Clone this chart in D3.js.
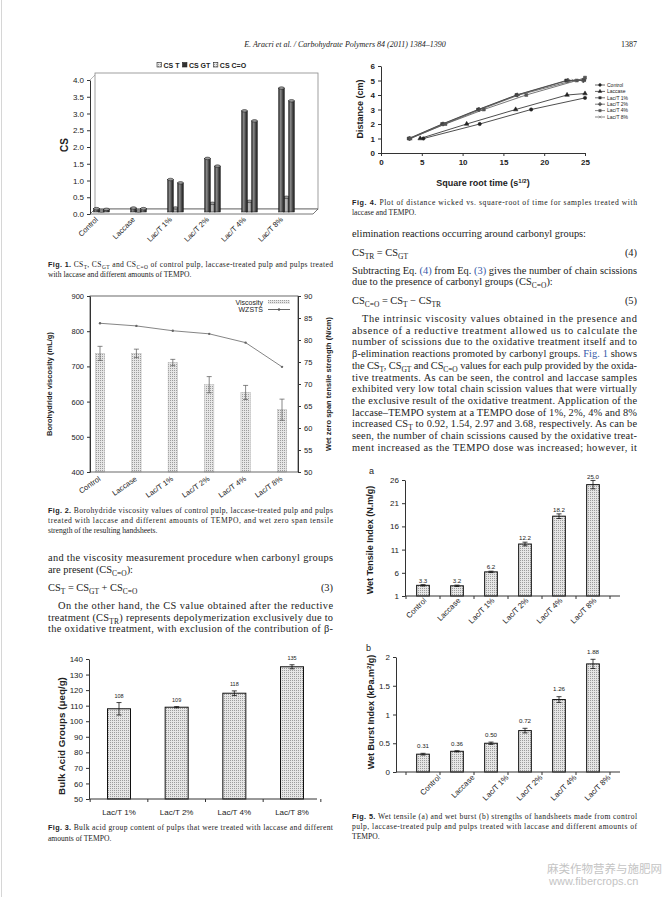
<!DOCTYPE html>
<html>
<head>
<meta charset="utf-8">
<script src="https://cdn.jsdelivr.net/npm/d3@7/dist/d3.min.js"></script>
<style>
body { margin: 0; background: #fff; }
svg { display: block; }
</style>
</head>
<body>
<div id="page"></div>
<script>
// ---- data ----
const groups = ["Control", "Laccase", "Lac/T 1%", "Lac/T 2%", "Lac/T 4%", "Lac/T 8%"]

// fig 1: chain scissions
const csT  = [0.10, 0.12, 0.97, 1.60, 3.02, 3.70]
const csGT = [0.08, 0.10, 0.87, 1.37, 2.72, 3.32]
const csCO = [0.03, 0.03, 0.12, 0.26, 0.32, 0.44]
const f1Legend = ["CS T", "CS GT", "CS C=O"]
const f1Ticks = [0, 0.5, 1, 1.5, 2, 2.5, 3, 3.5, 4]

// fig 2: viscosity + WZSTS
const viscosity = [737, 737, 711, 648, 626, 577]
const viscosityErr = [20, 12, 9, 23, 20, 30]
const wzsts = [83.8, 83.2, 82.1, 81.4, 79.4, 73.9]
const f2LeftTicks = [400, 500, 600, 700, 800, 900]
const f2RightTicks = [50, 55, 60, 65, 70, 75, 80, 85, 90]

// fig 3: bulk acid groups
const acidGroups = ["Lac/T 1%", "Lac/T 2%", "Lac/T 4%", "Lac/T 8%"]
const acidValues = [108, 109, 118, 135]
const acidErr = [4, 0.4, 1.5, 1.3]
const f3Ticks = [50, 60, 70, 80, 90, 100, 110, 120, 130, 140]

// fig 4: distance wicked vs sqrt time
const wickTime = [
    [5.2, 12.1, 18.4, 25.0],
    [4.8, 10.5, 16.5, 22.8, 25.0],
    [3.4, 7.5, 11.9, 16.6, 22.7, 24.9],
    [3.5, 7.6, 12.0, 16.7, 22.9, 24.8],
    [3.6, 7.9, 12.6, 17.8, 24.0, 25.0],
    [3.6, 7.8, 12.2, 16.9, 23.6, 24.9]
]
const wickDist = [
    [1, 2, 3, 3.8],
    [1, 2, 3, 4, 4.1],
    [1, 2, 3, 4, 5, 5.05],
    [1, 2, 3, 4, 5, 5.0],
    [1, 2, 3, 4, 5, 5.2],
    [1, 2, 3, 4, 5, 5.0]
]
const f4XTicks = [0, 5, 10, 15, 20, 25]
const f4YTicks = [0, 1, 2, 3, 4, 5, 6]

// fig 5: wet tensile / wet burst
const tensile = [3.3, 3.2, 6.2, 12.2, 18.2, 25.0]
const tensileErr = [0.15, 0.15, 0.15, 0.4, 0.5, 0.9]
const tensileLabels = ["3.3", "3.2", "6.2", "12.2", "18.2", "25.0"]
const burst = [0.31, 0.36, 0.50, 0.72, 1.26, 1.88]
const burstErr = [0.015, 0.01, 0.02, 0.04, 0.05, 0.08]
const burstLabels = ["0.31", "0.36", "0.50", "0.72", "1.26", "1.88"]
const f5aTicks = [1, 6, 11, 16, 21, 26]
const f5bTicks = [0, 0.5, 1, 1.5, 2]

// ---- page text ----
const header = "E. Aracri et al. / Carbohydrate Polymers 84 (2011) 1384–1390"
const cap1 = ["*Fig. 1.* CS_{T}, CS_{GT} and CS_{C=O} of control pulp, laccase-treated pulp and pulps treated",
    "with laccase and different amounts of TEMPO."]
const cap2 = ["*Fig. 2.* Borohydride viscosity values of control pulp, laccase-treated pulp and pulps",
    "treated with laccase and different amounts of TEMPO, and wet zero span tensile",
    "strength of the resulting handsheets."]
const cap3 = ["*Fig. 3.* Bulk acid group content of pulps that were treated with laccase and different",
    "amounts of TEMPO."]
const cap4 = ["*Fig. 4.* Plot of distance wicked vs. square-root of time for samples treated with",
    "laccase and TEMPO."]
const cap5 = ["*Fig. 5.* Wet tensile (a) and wet burst (b) strengths of handsheets made from control",
    "pulp, laccase-treated pulp and pulps treated with laccase and different amounts of",
    "TEMPO."]
const leftText1 = ["and the viscosity measurement procedure when carbonyl groups",
    "are present (CS_{C=O}):"]
const leftText2 = ["On the other hand, the CS value obtained after the reductive",
    "treatment (CS_{TR}) represents depolymerization exclusively due to",
    "the oxidative treatment, with exclusion of the contribution of β-"]
const rightText1 = ["elimination reactions occurring around carbonyl groups:"]
const rightText2 = ["Subtracting Eq. [(4)] from Eq. [(3)] gives the number of chain scissions",
    "due to the presence of carbonyl groups (CS_{C=O}):"]
const rightText3 = ["The intrinsic viscosity values obtained in the presence and",
    "absence of a reductive treatment allowed us to calculate the",
    "number of scissions due to the oxidative treatment itself and to",
    "β-elimination reactions promoted by carbonyl groups. [Fig. 1] shows",
    "the CS_{T}, CS_{GT} and CS_{C=O} values for each pulp provided by the oxida-",
    "tive treatments. As can be seen, the control and laccase samples",
    "exhibited very low total chain scission values that were virtually",
    "the exclusive result of the oxidative treatment. Application of the",
    "laccase–TEMPO system at a TEMPO dose of 1%, 2%, 4% and 8%",
    "increased CS_{T} to 0.92, 1.54, 2.97 and 3.68, respectively. As can be",
    "seen, the number of chain scissions caused by the oxidative treat-",
    "ment increased as the TEMPO dose was increased; however, it"]

const W = 672, H = 897
const SANS = "Liberation Sans, Arial, sans-serif"
const SERIF = "Liberation Serif, serif"
const INK = "#222"
const colL = 48, colR = 352, colW = 285

const svg = d3.select("#page").append("svg").attr("width", W).attr("height", H)
svg.append("rect").attr("width", W).attr("height", H).attr("fill", "#fff")
svg.append("line").attr("x1", 1.5).attr("x2", 1.5).attr("y1", 0).attr("y2", H).attr("stroke", "#d6d6d6")

const defs = svg.append("defs")
const dots = defs.append("pattern").attr("id", "dots").attr("width", 2).attr("height", 2).attr("patternUnits", "userSpaceOnUse")
dots.append("rect").attr("width", 2).attr("height", 2).attr("fill", "#e6e6e6")
dots.append("rect").attr("width", 1).attr("height", 1).attr("fill", "#9c9c9c")
const cyl = defs.append("linearGradient").attr("id", "cyl")
cyl.append("stop").attr("offset", "0%").attr("stop-color", "#2a2a2a")
cyl.append("stop").attr("offset", "35%").attr("stop-color", "#8c8c8c")
cyl.append("stop").attr("offset", "65%").attr("stop-color", "#505050")
cyl.append("stop").attr("offset", "100%").attr("stop-color", "#1c1c1c")
const cylLight = defs.append("linearGradient").attr("id", "cylLight")
cylLight.append("stop").attr("offset", "0%").attr("stop-color", "#666")
cylLight.append("stop").attr("offset", "40%").attr("stop-color", "#c8c8c8")
cylLight.append("stop").attr("offset", "100%").attr("stop-color", "#555")

// --- text helpers: _{sub}, [blue link], *bold sans* ---
function rich(sel, str, fs) {
    const parts = str.split(/(_\{[^}]*\}|\[[^\]]*\]|\*[^*]*\*)/).filter(s => s.length)
    let off = 0
    parts.forEach(p => {
        let t = p, target = 0, size = null, fill = null, bold = false
        if (p.startsWith("_{")) { t = p.slice(2, -1); target = fs * 0.28; size = fs * 0.72 }
        else if (p.startsWith("[")) { t = p.slice(1, -1); fill = "#3558a8" }
        else if (p.startsWith("*")) { t = p.slice(1, -1); bold = true }
        const ts = sel.append("tspan").text(t)
        if (target !== off) ts.attr("dy", target - off)
        off = target
        if (size) ts.attr("font-size", size)
        if (fill) ts.attr("fill", fill)
        if (bold) ts.attr("font-weight", "bold").attr("font-family", SANS).attr("font-size", fs * 0.95)
    })
}

function textLine(x, y, str, o) {
    const t = svg.append("text").attr("x", x).attr("y", y)
        .attr("font-family", o.family || SERIF).attr("font-size", o.size).attr("fill", INK)
    if (o.anchor) t.attr("text-anchor", o.anchor)
    if (o.italic) t.attr("font-style", "italic")
    rich(t, str, o.size)
    if (o.width) t.attr("textLength", o.width).attr("lengthAdjust", "spacing")
    return t
}

function para(x, y0, lines, o) {
    lines.forEach((s, i) => {
        const ind = (i === 0 && o.indent) ? o.indent : 0
        const last = i === lines.length - 1
        textLine(x + ind, y0 + i * o.lh, s, { size: o.size, width: (last && !o.justifyLast) ? null : o.width - ind })
    })
}

function styleAxis(g, fs, bold) {
    g.attr("font-family", SANS).attr("font-size", fs)
    g.selectAll("text").attr("fill", INK).attr("font-weight", bold ? "bold" : null)
    g.selectAll("path, line").attr("stroke", "#333")
}

// ---- header ----
textLine(345, 47, header, { size: 8, anchor: "middle", italic: true })
textLine(637, 47, "1387", { size: 8, anchor: "end" })

// ---- Fig. 1 : 3D cylinders ----
const f1x = d3.scalePoint().domain(groups).range([101.5, 286.5])
const f1y = d3.scaleLinear().domain([0, 4]).range([214, 80])
const g1 = svg.append("g")
g1.append("rect").attr("x", 95).attr("y", 73).attr("width", 223).attr("height", 136)
    .attr("fill", "none").attr("stroke", "#888").attr("stroke-width", 0.8)
g1.append("path").attr("d", "M90,214L95,209L318,209L313,214Z").attr("fill", "#fff").attr("stroke", "#555").attr("stroke-width", 0.8)
g1.append("path").attr("d", "M90,80L95,75").attr("stroke", "#888").attr("stroke-width", 0.6)
const ax1 = g1.append("g").attr("transform", "translate(90,0)")
    .call(d3.axisLeft(f1y).tickValues(f1Ticks).tickFormat(d3.format(".1f")).tickSize(3).tickSizeOuter(0))
styleAxis(ax1, 8)

const f1Bars = [
    { vals: csCO, off: 0, fill: "url(#cylLight)" },
    { vals: csT, off: -5, fill: "url(#cyl)" },
    { vals: csGT, off: 5, fill: "url(#cyl)" }
]
const bw1 = 5.6
f1Bars.forEach(s => {
    const bars = g1.append("g").selectAll("g").data(groups).join("g")
    bars.append("rect")
        .attr("x", (d, i) => f1x(d) + s.off - bw1 / 2)
        .attr("y", (d, i) => f1y(s.vals[i]) - 2)
        .attr("width", bw1)
        .attr("height", (d, i) => f1y(0) - f1y(s.vals[i]))
        .attr("fill", s.fill).attr("stroke", "#111").attr("stroke-width", 0.5)
    bars.append("ellipse")
        .attr("cx", d => f1x(d) + s.off)
        .attr("cy", (d, i) => f1y(s.vals[i]) - 2)
        .attr("rx", bw1 / 2).attr("ry", 1.3)
        .attr("fill", "#9a9a9a").attr("stroke", "#111").attr("stroke-width", 0.5)
})
g1.append("g").selectAll("text").data(groups).join("text")
    .attr("transform", d => `translate(${f1x(d) - 3},220) rotate(-45)`)
    .attr("text-anchor", "end").attr("font-family", SANS).attr("font-size", 7.5).attr("fill", INK)
    .text(d => d)
g1.append("text").attr("transform", "translate(68,145) rotate(-90)").attr("text-anchor", "middle")
    .attr("font-family", SANS).attr("font-weight", "bold").attr("font-size", 10).attr("fill", INK).text("CS")
// legend
let lx = 157
const legFills = ["url(#dots)", "#333", "url(#dots)"]
f1Legend.forEach((name, i) => {
    g1.append("rect").attr("x", lx).attr("y", 62.5).attr("width", 4.5).attr("height", 4.5)
        .attr("fill", legFills[i]).attr("stroke", "#222").attr("stroke-width", 0.6)
    const t = g1.append("text").attr("x", lx + 6.5).attr("y", 67.5).attr("font-family", SANS)
        .attr("font-weight", "bold").attr("font-size", 7).attr("fill", INK).text(name)
    lx += 6.5 + t.node().getComputedTextLength() + 3
})
para(colL, 267, cap1, { size: 7.6, lh: 10, width: colW })

// ---- Fig. 2 : viscosity bars + WZSTS line ----
const f2x = d3.scalePoint().domain(groups).range([100, 282])
const f2y = d3.scaleLinear().domain([400, 900]).range([472, 296])
const f2y2 = d3.scaleLinear().domain([50, 90]).range([472, 296])
const g2 = svg.append("g")
const bw2 = 9.4
g2.append("g").selectAll("rect").data(groups).join("rect")
    .attr("x", d => f2x(d) - bw2 / 2).attr("y", (d, i) => f2y(viscosity[i]))
    .attr("width", bw2).attr("height", (d, i) => f2y(400) - f2y(viscosity[i]))
    .attr("fill", "url(#dots)").attr("stroke", "#aaa").attr("stroke-width", 0.4)
const eb2 = g2.append("g").attr("stroke", "#555").attr("stroke-width", 0.7)
groups.forEach((d, i) => {
    const c = f2x(d), lo = f2y(viscosity[i] - viscosityErr[i]), hi = f2y(viscosity[i] + viscosityErr[i])
    eb2.append("line").attr("x1", c).attr("x2", c).attr("y1", lo).attr("y2", hi)
    eb2.append("line").attr("x1", c - 2.5).attr("x2", c + 2.5).attr("y1", lo).attr("y2", lo)
    eb2.append("line").attr("x1", c - 2.5).attr("x2", c + 2.5).attr("y1", hi).attr("y2", hi)
})
g2.append("path").datum(wzsts)
    .attr("d", d3.line().x((d, i) => f2x(groups[i])).y(d => f2y2(d)))
    .attr("fill", "none").attr("stroke", "#777").attr("stroke-width", 0.9)
g2.append("g").selectAll("circle").data(wzsts).join("circle")
    .attr("cx", (d, i) => f2x(groups[i])).attr("cy", d => f2y2(d)).attr("r", 1.2).attr("fill", "#666")
g2.append("rect").attr("x", 90).attr("y", 296).attr("width", 208).attr("height", 176)
    .attr("fill", "none").attr("stroke", "#444").attr("stroke-width", 0.8)
const ax2l = g2.append("g").attr("transform", "translate(90,0)")
    .call(d3.axisLeft(f2y).tickValues(f2LeftTicks).tickSize(3).tickSizeOuter(0))
styleAxis(ax2l, 7.5)
const ax2r = g2.append("g").attr("transform", "translate(298,0)")
    .call(d3.axisRight(f2y2).tickValues(f2RightTicks).tickSize(3).tickSizeOuter(0))
styleAxis(ax2r, 7.5)
g2.append("g").selectAll("text").data(groups).join("text")
    .attr("transform", d => `translate(${f2x(d) + 1},480) rotate(-35)`)
    .attr("text-anchor", "end").attr("font-family", SANS).attr("font-size", 7.5).attr("fill", INK)
    .text(d => d)
g2.append("text").attr("transform", "translate(52,384) rotate(-90)").attr("text-anchor", "middle")
    .attr("font-family", SANS).attr("font-weight", "bold").attr("font-size", 7.5).attr("fill", INK)
    .text("Borohydride viscosity (mL/g)")
g2.append("text").attr("transform", "translate(331,384) rotate(-90)").attr("text-anchor", "middle")
    .attr("font-family", SANS).attr("font-weight", "bold").attr("font-size", 7.5).attr("fill", INK)
    .text("Wet zero span tensile strength (N/cm)")
g2.append("text").attr("x", 263).attr("y", 304.5).attr("text-anchor", "end").attr("font-family", SANS)
    .attr("font-size", 7).attr("fill", INK).text("Viscosity")
g2.append("rect").attr("x", 268).attr("y", 300).attr("width", 22).attr("height", 4).attr("fill", "url(#dots)")
g2.append("text").attr("x", 263).attr("y", 312).attr("text-anchor", "end").attr("font-family", SANS)
    .attr("font-size", 7).attr("fill", INK).text("WZSTS")
g2.append("line").attr("x1", 268).attr("x2", 290).attr("y1", 309.5).attr("y2", 309.5).attr("stroke", "#555").attr("stroke-width", 0.9)
g2.append("circle").attr("cx", 279).attr("cy", 309.5).attr("r", 1.2).attr("fill", "#555")
para(colL, 513, cap2, { size: 7.6, lh: 10, width: colW })

// ---- left column body ----
para(colL, 561, leftText1, { size: 10.4, lh: 11.7, width: colW })
textLine(colL, 591, "CS_{T} = CS_{GT} + CS_{C=O}", { size: 10.4 })
textLine(colL + colW, 591, "(3)", { size: 10.4, anchor: "end" })
para(colL, 609, leftText2, { size: 10.4, lh: 11.7, width: colW, indent: 10, justifyLast: true })

// ---- Fig. 3 : bulk acid groups ----
const f3x = d3.scalePoint().domain(acidGroups).range([119, 292])
const f3y = d3.scaleLinear().domain([50, 140]).range([799, 659])
const g3 = svg.append("g")
const bw3 = 23
g3.append("g").selectAll("rect").data(acidGroups).join("rect")
    .attr("x", d => f3x(d) - bw3 / 2).attr("y", (d, i) => f3y(acidValues[i]))
    .attr("width", bw3).attr("height", (d, i) => f3y(50) - f3y(acidValues[i]))
    .attr("fill", "url(#dots)").attr("stroke", "#111").attr("stroke-width", 1)
const eb3 = g3.append("g").attr("stroke", "#111").attr("stroke-width", 0.8)
acidGroups.forEach((d, i) => {
    const c = f3x(d), lo = f3y(acidValues[i] - acidErr[i]), hi = f3y(acidValues[i] + acidErr[i])
    eb3.append("line").attr("x1", c).attr("x2", c).attr("y1", lo).attr("y2", hi)
    eb3.append("line").attr("x1", c - 2.5).attr("x2", c + 2.5).attr("y1", lo).attr("y2", lo)
    eb3.append("line").attr("x1", c - 2.5).attr("x2", c + 2.5).attr("y1", hi).attr("y2", hi)
    g3.append("text").attr("x", c).attr("y", hi - 5).attr("text-anchor", "middle")
        .attr("font-family", SANS).attr("font-size", 5.5).attr("fill", INK).text(acidValues[i])
})
const ax3 = g3.append("g").attr("transform", "translate(89,0)")
    .call(d3.axisLeft(f3y).tickValues(f3Ticks).tickSize(3).tickSizeOuter(0))
styleAxis(ax3, 8)
const step3 = f3x.step()
g3.append("line").attr("x1", 89).attr("x2", 317).attr("y1", 799).attr("y2", 799).attr("stroke", "#333")
g3.append("g").selectAll("line").data(acidGroups.concat([null])).join("line")
    .attr("x1", (d, i) => f3x(acidGroups[0]) - step3 / 2 + i * step3)
    .attr("x2", (d, i) => f3x(acidGroups[0]) - step3 / 2 + i * step3)
    .attr("y1", 799).attr("y2", 802).attr("stroke", "#333")
g3.append("g").selectAll("text").data(acidGroups).join("text")
    .attr("x", d => f3x(d)).attr("y", 815).attr("text-anchor", "middle")
    .attr("font-family", SANS).attr("font-size", 8).attr("fill", INK).text(d => d)
g3.append("text").attr("transform", "translate(65,736) rotate(-90)").attr("text-anchor", "middle")
    .attr("font-family", SANS).attr("font-weight", "bold").attr("font-size", 9.8).attr("fill", INK)
    .text("Bulk Acid Groups (μeq/g)")
para(colL, 830, cap3, { size: 7.6, lh: 10.5, width: colW })

// ---- Fig. 4 : wicking ----
const f4x = d3.scaleLinear().domain([0, 25]).range([381, 585])
const f4y = d3.scaleLinear().domain([0, 6]).range([153, 66])
const g4 = svg.append("g")
const ax4y = g4.append("g").attr("transform", "translate(381,0)")
    .call(d3.axisLeft(f4y).tickValues(f4YTicks).tickFormat(d3.format("d")).tickSize(3).tickSizeOuter(0))
styleAxis(ax4y, 8, true)
const ax4x = g4.append("g").attr("transform", "translate(0,153)")
    .call(d3.axisBottom(f4x).tickValues(f4XTicks).tickFormat(d3.format("d")).tickSize(3).tickSizeOuter(0))
styleAxis(ax4x, 8, true)
const sym4 = [d3.symbolCircle, d3.symbolTriangle, d3.symbolSquare, d3.symbolCross, d3.symbolSquare, d3.symbolTimes || d3.symbolCross]
const stroke4 = ["#222", "#222", "#333", "#444", "#555", "#555"]
groups.forEach((name, k) => {
    const pts = wickTime[k].map((t, i) => [t, wickDist[k][i]])
    g4.append("path").datum(pts)
        .attr("d", d3.line().x(p => f4x(p[0])).y(p => f4y(p[1])))
        .attr("fill", "none").attr("stroke", stroke4[k]).attr("stroke-width", 0.8)
    const sy = d3.symbol().type(sym4[k]).size(9)
    g4.append("g").selectAll("path").data(pts).join("path")
        .attr("transform", p => `translate(${f4x(p[0])},${f4y(p[1])})`)
        .attr("d", sy).attr("fill", stroke4[k]).attr("stroke", stroke4[k]).attr("stroke-width", 0.5)
    const ly = 85 + k * 6.4
    g4.append("line").attr("x1", 595).attr("x2", 605).attr("y1", ly).attr("y2", ly).attr("stroke", stroke4[k]).attr("stroke-width", 0.7)
    g4.append("path").attr("transform", `translate(600,${ly})`).attr("d", d3.symbol().type(sym4[k]).size(6))
        .attr("fill", stroke4[k]).attr("stroke", stroke4[k]).attr("stroke-width", 0.4)
    g4.append("text").attr("x", 607).attr("y", ly + 1.8).attr("font-family", SANS).attr("font-size", 5)
        .attr("fill", INK).text(name)
})
g4.append("text").attr("transform", "translate(363,109) rotate(-90)").attr("text-anchor", "middle")
    .attr("font-family", SANS).attr("font-weight", "bold").attr("font-size", 9).attr("fill", INK).text("Distance (cm)")
const t4 = g4.append("text").attr("x", 483).attr("y", 186).attr("text-anchor", "middle")
    .attr("font-family", SANS).attr("font-weight", "bold").attr("font-size", 9).attr("fill", INK)
t4.append("tspan").text("Square root time (s")
t4.append("tspan").attr("dy", -3.5).attr("font-size", 6).text("1/2")
t4.append("tspan").attr("dy", 3.5).text(")")
para(colR, 205, cap4, { size: 7.6, lh: 10, width: colW })

// ---- right column body ----
para(colR, 237, rightText1, { size: 10.4, lh: 11.7, width: colW })
textLine(colR, 256, "CS_{TR} = CS_{GT}", { size: 10.4 })
textLine(colR + colW, 256, "(4)", { size: 10.4, anchor: "end" })
para(colR, 274, rightText2, { size: 10.4, lh: 11.4, width: colW })
textLine(colR, 304, "CS_{C=O} = CS_{T} − CS_{TR}", { size: 10.4 })
textLine(colR + colW, 304, "(5)", { size: 10.4, anchor: "end" })
para(colR, 322, rightText3, { size: 10.4, lh: 11.72, width: colW, indent: 10, justifyLast: true })

// ---- Fig. 5 : wet tensile / wet burst ----
function fig5(o) {
    const x = d3.scalePoint().domain(groups).range([423, 593])
    const y = d3.scaleLinear().domain(o.domain).range(o.range)
    const base = o.range[0]
    const g = svg.append("g")
    const bw = 12.7
    g.append("g").selectAll("rect").data(groups).join("rect")
        .attr("x", d => x(d) - bw / 2).attr("y", (d, i) => y(o.values[i]))
        .attr("width", bw).attr("height", (d, i) => base - y(o.values[i]))
        .attr("fill", "url(#dots)").attr("stroke", "#111").attr("stroke-width", 1)
    const eb = g.append("g").attr("stroke", "#111").attr("stroke-width", 0.8)
    groups.forEach((d, i) => {
        const c = x(d), lo = y(o.values[i] - o.errs[i]), hi = y(o.values[i] + o.errs[i])
        eb.append("line").attr("x1", c).attr("x2", c).attr("y1", lo).attr("y2", hi)
        eb.append("line").attr("x1", c - 2.5).attr("x2", c + 2.5).attr("y1", lo).attr("y2", lo)
        eb.append("line").attr("x1", c - 2.5).attr("x2", c + 2.5).attr("y1", hi).attr("y2", hi)
        g.append("text").attr("x", c).attr("y", hi - o.labelGap).attr("text-anchor", "middle")
            .attr("font-family", SANS).attr("font-size", 6.2).attr("fill", INK).text(o.labels[i])
    })
    const ay = g.append("g").attr("transform", `translate(${o.left},0)`)
        .call(d3.axisLeft(y).tickValues(o.ticks).tickFormat(o.fmt).tickSize(3).tickSizeOuter(0))
    styleAxis(ay, 8)
    g.append("line").attr("x1", o.left).attr("x2", 620).attr("y1", base).attr("y2", base).attr("stroke", "#333")
    const st = x.step()
    g.append("g").selectAll("line").data(d3.range(groups.length + 1)).join("line")
        .attr("x1", i => x(groups[0]) - st / 2 + i * st).attr("x2", i => x(groups[0]) - st / 2 + i * st)
        .attr("y1", base).attr("y2", base + 3).attr("stroke", "#333")
    g.append("g").selectAll("text").data(groups).join("text")
        .attr("transform", d => `translate(${x(d) + o.lblDx},${base + o.lblDy}) rotate(-45)`)
        .attr("text-anchor", "end").attr("font-family", SANS).attr("font-size", 7.8).attr("fill", INK)
        .text(d => d)
    const yt = g.append("text").attr("transform", `translate(${o.titleX},${o.titleY}) rotate(-90)`)
        .attr("text-anchor", "middle").attr("font-family", SANS).attr("font-weight", "bold")
        .attr("font-size", 9).attr("fill", INK)
    o.title.forEach(p => {
        const ts = yt.append("tspan").text(p[0])
        if (p[1]) ts.attr("dy", p[1])
        if (p[2]) ts.attr("font-size", p[2])
    })
    g.append("text").attr("x", o.letter[1]).attr("y", o.letter[2]).attr("font-family", SANS)
        .attr("font-size", 9).attr("fill", INK).text(o.letter[0])
}

fig5({
    values: tensile, errs: tensileErr, labels: tensileLabels, labelGap: 1.8,
    domain: [1, 26], range: [596, 480], ticks: f5aTicks, fmt: d3.format("d"), left: 405,
    lblDx: 4, lblDy: 5, titleX: 373, titleY: 540,
    title: [["Wet Tensile Index (N.m/g)"]], letter: ["a", 369, 474]
})
fig5({
    values: burst, errs: burstErr, labels: burstLabels, labelGap: 5.2,
    domain: [0, 2], range: [772, 657], ticks: f5bTicks, fmt: d => d3.format("")(d), left: 396,
    lblDx: 18, lblDy: 6, titleX: 374, titleY: 712,
    title: [["Wet Burst Index (kPa.m"], ["2", -3.5, 6], ["/g)", 3.5]], letter: ["b", 366, 651]
})
para(colR, 819, cap5, { size: 7.6, lh: 10.2, width: colW })

// ---- watermark ----
svg.append("text").attr("x", 547).attr("y", 873).attr("font-family", "Noto Sans CJK SC")
    .attr("font-size", 11.5).attr("fill", "#c4c4c4").text("麻类作物营养与施肥网")
svg.append("text").attr("x", 549).attr("y", 885).attr("font-family", SANS)
    .attr("font-size", 11).attr("fill", "#c4c4c4").text("www.fibercrops.cn")
</script>
</body>
</html>
